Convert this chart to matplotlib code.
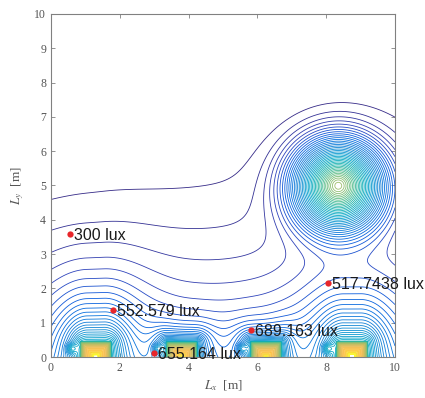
import numpy as np
import matplotlib.pyplot as plt
from matplotlib.colors import LinearSegmentedColormap

# floor luminaires along the bottom wall [m]
lamp_x0 = [0.85, 3.35, 5.80, 8.30]
lamp_x1 = [1.75, 4.25, 6.70, 9.20]
lamp_top = 0.45
# outer luminaires throw further than the inner ones
lamp_far_amp = [24, 10, 10, 24]
lamp_far_len = [1.0, 0.45, 0.45, 1.0]
lamp_far_ani = [1.6, 1.0, 1.0, 1.6]
lamp_near_amp = [4, 10, 10, 4]
# small fixtures beside each luminaire [m]
blob_x = [0.60, 3.10, 5.55, 8.05]
blob_y = [0.25, 0.25, 0.25, 0.25]
# ceiling spot [m]
spot_x = 8.35
spot_y = 5.0
# measured points
probe_x = [0.55, 1.79, 3.00, 5.80, 8.06]
probe_y = [3.60, 1.37, 0.12, 0.79, 2.15]
probe_lux = ['300', '552.579', '655.164', '689.163', '517.7438']

# parula-like colormap
parula = LinearSegmentedColormap.from_list('parula', [
    (0.2081, 0.1663, 0.5292), (0.1959, 0.2645, 0.7279), (0.0591, 0.3598, 0.8683),
    (0.0329, 0.4430, 0.8720), (0.0779, 0.5040, 0.8384), (0.0488, 0.5772, 0.8228),
    (0.0231, 0.6418, 0.7913), (0.0590, 0.6838, 0.7254), (0.1801, 0.7177, 0.6424),
    (0.3482, 0.7424, 0.5473), (0.5300, 0.7491, 0.4661), (0.6834, 0.7435, 0.4044),
    (0.8185, 0.7327, 0.3498), (0.9450, 0.7261, 0.2886), (0.9938, 0.7455, 0.2403),
    (0.9789, 0.8271, 0.1633), (0.9763, 0.9831, 0.0538)])

x = np.linspace(0, 10, 601)
y = np.linspace(0, 10, 601)
X, Y = np.meshgrid(x, y)

# illuminance model, in contour-level units
E = 9.1 * np.exp(-Y / 4.0) - 1.6 + (-0.5 + 0.1 * X)

for i in range(4):
    x0, x1 = lamp_x0[i], lamp_x1[i]
    dxc = np.maximum(np.maximum(x0 + 0.2 - X, X - x1 + 0.2), 0)
    rho = np.hypot(lamp_far_ani[i] * dxc, np.maximum(Y - 0.2, 0))
    rho = np.hypot(rho, 0.45 if lamp_far_ani[i] > 1 else 0.3)
    E += lamp_far_amp[i] * np.exp(-rho / lamp_far_len[i])
    dx = np.maximum(np.maximum(x0 - X, X - x1), 0)
    d = np.hypot(dx, np.maximum(Y - lamp_top, 0))
    E += lamp_near_amp[i] * np.exp(-d / 0.25)
    inner = np.minimum(np.minimum(X - x0, x1 - X), lamp_top - Y)
    ins = inner > 0
    E[ins] += 14 * (1 - np.exp(-inner[ins] / 0.03)) + 50 * inner[ins]
for bx, by in zip(blob_x, blob_y):
    E += 6.0 * np.exp(-((X - bx) ** 2 + (Y - by) ** 2) / (2 * 0.1 ** 2))

r = np.hypot(X - spot_x, Y - spot_y)
rs = np.sqrt(r ** 2 + 0.2 ** 2) - 0.2
w = 0.32
E += 26 * w * np.log1p(np.exp((1.5 - rs) / w))

levels = np.arange(1, 61)

plt.rcParams['mathtext.fontset'] = 'stix'
fig = plt.figure(figsize=(4.25, 3.98), dpi=100)
ax = fig.add_axes([51 / 425, 41 / 398, 344 / 425, 343 / 398])
ax.contour(X, Y, E, levels=levels, cmap=parula, vmin=1, vmax=60, linewidths=0.6)

ax.plot(probe_x, probe_y, 'o', color='#e8262a', ms=4.5, mec='none', zorder=5)
for px, py, lux in zip(probe_x, probe_y, probe_lux):
    ax.text(px + 0.12, py - 0.05, lux + ' lux', fontsize=11.5, family='Liberation Sans',
            va='center', ha='left', color='#1a1a1a', zorder=6)

ax.set_xlim(0, 10)
ax.set_ylim(0, 10)
ax.set_xticks(range(0, 11, 2))
ax.set_yticks(range(0, 11))
gray = '#555555'
for s in ax.spines.values():
    s.set_color('#808080')
    s.set_linewidth(0.8)
ax.tick_params(direction='in', top=True, right=True, length=3, width=0.6,
               color='#808080', labelcolor=gray, labelsize=8.5)
for lab in ax.get_xticklabels() + ax.get_yticklabels():
    lab.set_family('Liberation Serif')
ax.set_xlabel(r'$L_x$  [m]', family='Liberation Serif', fontsize=9.5, color=gray, labelpad=3)
ax.set_ylabel(r'$L_y$  [m]', family='Liberation Serif', fontsize=9.5, color=gray, labelpad=6)

fig.savefig('out.png', dpi=100)
